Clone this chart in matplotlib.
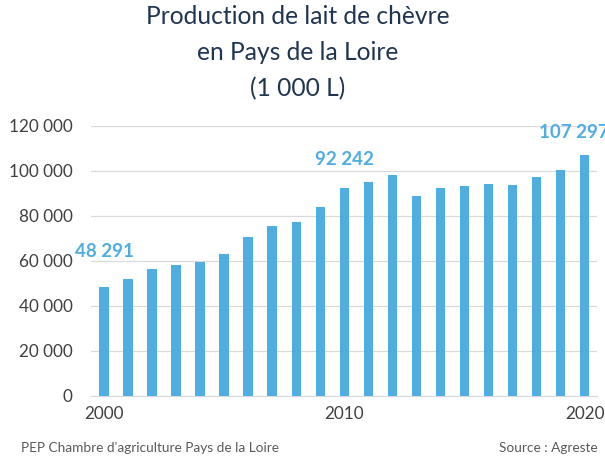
import numpy as np
import matplotlib
matplotlib.use("Agg")
import matplotlib.pyplot as plt
from matplotlib.ticker import FuncFormatter

years = list(range(2000, 2021))
volumes = [48291, 52100, 56300, 58400, 59700, 63100, 70500, 75400, 77300, 84000,
           92242, 95100, 98200, 89000, 92400, 93200, 94400, 93900, 97300, 100400, 107297]
labelled = {2000: "48 291", 2010: "92 242", 2020: "107 297"}
tick_years = [2000, 2010, 2020]

plt.rcParams["font.family"] = ["Lato", "DejaVu Sans"]
bar_col = "#4FADE2"
txt_col = "#404040"

fig = plt.figure(figsize=(6.05, 4.57), dpi=100)
ax = fig.add_axes([0.15, 0.1335, 0.836, 0.5908])

x = np.arange(len(years))
ax.bar(x, volumes, width=0.39, color=bar_col, zorder=3)

ax.set_ylim(0, 120000)
ax.set_xlim(-0.55, len(years) - 0.5)
ax.set_yticks(np.arange(0, 120001, 20000))
ax.yaxis.set_major_formatter(FuncFormatter(lambda v, p: f"{int(v):,}".replace(",", " ")))
ax.set_xticks([years.index(y) for y in tick_years])
ax.set_xticklabels([str(y) for y in tick_years])
ax.tick_params(length=0, labelsize=12.3, colors=txt_col)
ax.tick_params(axis="y", pad=13)
ax.tick_params(axis="x", pad=7)
ax.grid(axis="y", color="#D9D9D9", linewidth=0.9, zorder=0)
for s in ["left", "right", "top"]:
    ax.spines[s].set_visible(False)
ax.spines["bottom"].set_color("#D9D9D9")

# 2020 label is cut by the right edge, as in the source chart
offsets = {2000: (0, 26), 2010: (0, 20.5), 2020: (-8, 16)}
for yr, lab in labelled.items():
    i = years.index(yr)
    ax.annotate(lab, (i, volumes[i]), xytext=offsets[yr], textcoords="offset points",
                ha="center", va="center", fontsize=13.5, fontweight="bold",
                color=bar_col, annotation_clip=False)

fig.text(0.492, 0.99, "Production de lait de chèvre\nen Pays de la Loire\n(1 000 L)",
         ha="center", va="top", fontsize=17.7, color="#1F3550", linespacing=1.7)
fig.text(0.035, 0.012, "PEP Chambre d'agriculture Pays de la Loire", fontsize=9.8, color="#595959")
fig.text(0.988, 0.012, "Source : Agreste", ha="right", fontsize=9.8, color="#595959")

fig.savefig("out.png", dpi=100)
